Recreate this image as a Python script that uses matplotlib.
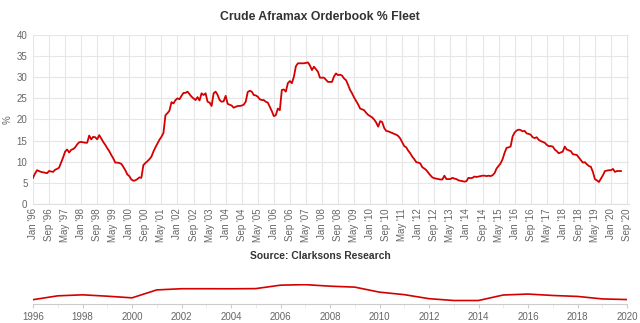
import numpy as np
import matplotlib
matplotlib.use("Agg")
import matplotlib.pyplot as plt

plt.rcParams['font.family'] = ['Liberation Sans', 'DejaVu Sans']

title = "Crude Aframax Orderbook % Fleet"
source = "Source: Clarksons Research"
y_label = "%"

# Monthly orderbook as % of fleet, Jan 1996 onwards
ob_1996 = [6.2, 7.2, 8.0, 7.8, 7.6, 7.5, 7.4, 7.3, 7.8, 7.7, 7.6, 8.1]
ob_1997 = [8.3, 8.6, 9.8, 11.0, 12.4, 12.9, 12.2, 12.8, 13.0, 13.4, 14.1, 14.6]
ob_1998 = [14.7, 14.6, 14.5, 14.5, 16.2, 15.3, 15.9, 15.8, 15.3, 16.3, 15.5, 14.7]
ob_1999 = [14.0, 13.2, 12.5, 11.6, 10.8, 9.8, 9.8, 9.7, 9.5, 8.8, 8.0, 7.0]
ob_2000 = [6.6, 5.8, 5.5, 5.6, 5.9, 6.3, 6.2, 9.2, 9.7, 10.1, 10.6, 11.2]
ob_2001 = [12.4, 13.4, 14.3, 15.2, 15.9, 16.8, 21.0, 21.5, 22.1, 24.1, 23.8, 24.6]
ob_2002 = [25.0, 24.8, 25.6, 26.3, 26.3, 26.6, 26.0, 25.4, 25.0, 24.6, 25.3, 24.5]
ob_2003 = [26.2, 25.8, 26.2, 24.2, 24.0, 23.2, 26.2, 26.6, 25.8, 24.6, 24.2, 24.3]
ob_2004 = [25.6, 23.7, 23.5, 23.3, 22.8, 23.0, 23.2, 23.2, 23.3, 23.5, 24.2, 26.5]
ob_2005 = [26.8, 26.6, 25.8, 25.7, 25.4, 24.8, 24.6, 24.6, 24.2, 24.0, 23.0, 22.0]
ob_2006 = [20.8, 21.0, 22.6, 22.2, 27.0, 27.1, 26.6, 28.6, 29.1, 28.6, 30.1, 32.6]
ob_2007 = [33.3, 33.3, 33.3, 33.3, 33.4, 33.5, 32.8, 31.7, 32.5, 31.9, 31.3, 29.9]
ob_2008 = [29.9, 29.9, 29.4, 28.9, 28.9, 28.9, 30.2, 30.9, 30.5, 30.6, 30.4, 29.7]
ob_2009 = [29.3, 28.2, 27.0, 26.2, 25.2, 24.4, 23.6, 22.6, 22.4, 22.2, 21.6, 21.1]
ob_2010 = [20.8, 20.5, 20.0, 19.3, 18.3, 19.6, 19.4, 18.0, 17.3, 17.2, 17.0, 16.8]
ob_2011 = [16.6, 16.4, 16.1, 15.5, 14.6, 13.7, 13.4, 12.6, 12.0, 11.2, 10.6, 9.9]
ob_2012 = [9.8, 9.6, 8.7, 8.4, 8.0, 7.4, 6.8, 6.3, 6.1, 6.0, 5.9, 5.8]
ob_2013 = [5.8, 6.7, 5.9, 5.9, 5.9, 6.2, 6.0, 5.9, 5.6, 5.5, 5.4, 5.3]
ob_2014 = [5.4, 6.2, 6.1, 6.2, 6.5, 6.4, 6.5, 6.6, 6.7, 6.7, 6.6, 6.7]
ob_2015 = [6.6, 6.8, 7.3, 8.4, 9.0, 9.6, 10.6, 12.1, 13.3, 13.4, 13.6, 16.0]
ob_2016 = [16.9, 17.4, 17.6, 17.5, 17.2, 17.3, 16.7, 16.6, 16.4, 15.8, 15.6, 15.8]
ob_2017 = [15.2, 14.9, 14.7, 14.5, 14.0, 13.7, 13.7, 13.6, 12.9, 12.5, 12.0, 12.2]
ob_2018 = [12.4, 13.6, 12.9, 12.7, 12.5, 11.8, 11.7, 11.6, 11.0, 10.4, 9.8, 9.9]
ob_2019 = [9.4, 9.0, 8.8, 7.6, 5.9, 5.6, 5.2, 6.0, 6.8, 7.8, 7.9, 8.0]
ob_2020 = [8.0, 8.3, 7.6, 7.8, 7.8, 7.8]

yearly_lists = [ob_1996, ob_1997, ob_1998, ob_1999, ob_2000, ob_2001, ob_2002,
                ob_2003, ob_2004, ob_2005, ob_2006, ob_2007, ob_2008, ob_2009,
                ob_2010, ob_2011, ob_2012, ob_2013, ob_2014, ob_2015, ob_2016,
                ob_2017, ob_2018, ob_2019, ob_2020]
nav_years = list(range(1996, 2021))

tick_labels = ["Jan '96", "Sep '96", "May '97", "Jan '98", "Sep '98", "May '99",
               "Jan '00", "Sep '00", "May '01", "Jan '02", "Sep '02", "May '03",
               "Jan '04", "Sep '04", "May '05", "Jan '06", "Sep '06", "May '07",
               "Jan '08", "Sep '08", "May '09", "Jan '10", "Sep '10", "May '11",
               "Jan '12", "Sep '12", "May '13", "Jan '14", "Sep '14", "May '15",
               "Jan '16", "Sep '16", "May '17", "Jan '18", "Sep '18", "May '19",
               "Jan '20", "Sep '20"]
tick_step = 8  # months between labels
y_ticks = [0, 5, 10, 15, 20, 25, 30, 35, 40]
nav_labels = [1996, 1998, 2000, 2002, 2004, 2006, 2008, 2010, 2012, 2014,
              2016, 2018, 2020]

values = np.concatenate([np.array(v, dtype=float) for v in yearly_lists])
months = np.arange(len(values))
# navigator shows one grouped point per year (highest value of the year)
nav_values = [max(v) for v in yearly_lists]

W, H = 640, 323
fig = plt.figure(figsize=(W / 100, H / 100), dpi=100)
fig.patch.set_facecolor('white')

red = '#d40000'
grid_c = '#e6e6e6'
txt_c = '#666666'

# main axes
L, R, T, B = 33, 629, 35, 204
ax = fig.add_axes([L / W, 1 - B / H, (R - L) / W, (B - T) / H])
ax.plot(months, values, color=red, lw=1.3, solid_joinstyle='round')
ax.set_xlim(0, 297)
ax.set_ylim(0, 40)
ax.set_yticks(y_ticks)
ax.set_xticks(np.arange(len(tick_labels)) * tick_step)
ax.set_xticklabels(tick_labels, rotation=90, va='top', ha='center')
ax.tick_params(axis='both', length=0, labelsize=7, labelcolor=txt_c)
ax.tick_params(axis='x', pad=3)
ax.tick_params(axis='y', pad=4)
ax.grid(True, color=grid_c, lw=0.8)
ax.set_axisbelow(True)
for s in ['top', 'right', 'left']:
    ax.spines[s].set_visible(False)
ax.spines['bottom'].set_color('#e0e0e0')
ax.spines['bottom'].set_linewidth(0.8)
fig.text(8 / W, 1 - 120 / H, y_label, rotation=90, ha='center', va='center',
         fontsize=7, color=txt_c)

fig.text(0.5, 1 - 17 / H, title, ha='center', va='center', fontsize=8.8,
         fontweight='bold', color='#333333')
fig.text(0.5, 1 - 256 / H, source, ha='center', va='center', fontsize=7.4,
         fontweight='bold', color='#333333')

# navigator
NL, NR, NT, NB = 33, 627, 284, 304
nav = fig.add_axes([NL / W, 1 - NB / H, (NR - NL) / W, (NB - NT) / H])
nav.plot(nav_years, nav_values, color=red, lw=1.2)
nav.set_xlim(1996, 2020)
vmin, vmax = min(nav_values), max(nav_values)
span = vmax - vmin
nav.set_ylim(vmin - 0.22 * span, vmax + 0.04 * span)
nav.set_yticks([])
nav.set_xticks(nav_labels)
nav.set_xticks(nav_years, minor=True)
nav.tick_params(axis='x', which='major', length=3, color='#cccccc', labelsize=7,
                labelcolor=txt_c, pad=3)
nav.tick_params(axis='x', which='minor', length=3, color='#e6e6e6')
for s in ['top', 'right', 'left']:
    nav.spines[s].set_visible(False)
nav.spines['bottom'].set_color('#cccccc')
nav.spines['bottom'].set_linewidth(0.8)
nav.patch.set_alpha(0)

fig.savefig('out.png', dpi=100, facecolor='white')
